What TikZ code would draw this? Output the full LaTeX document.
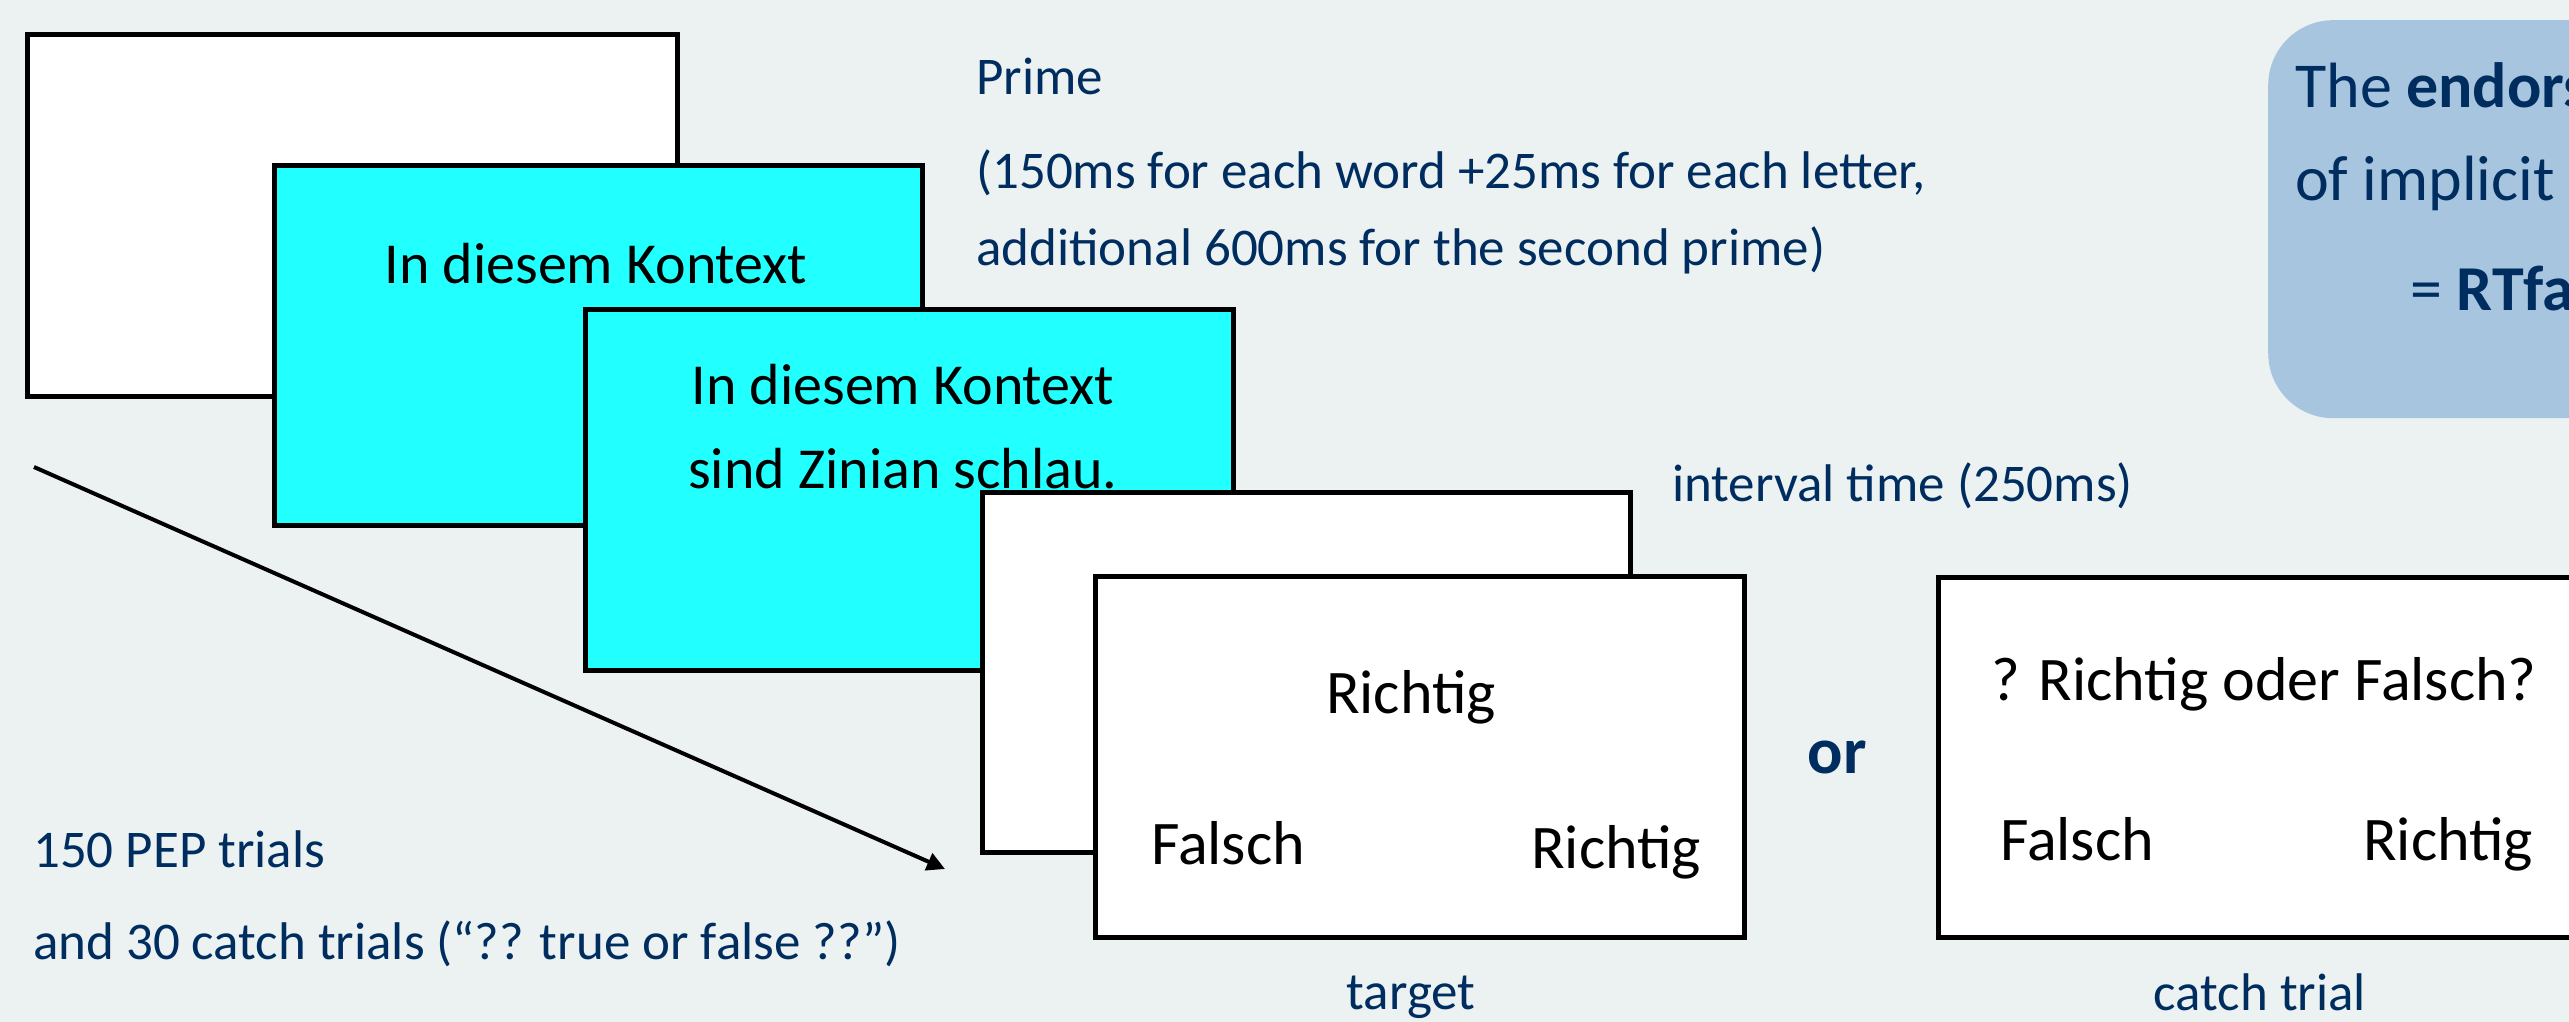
\documentclass[tikz,border=0pt]{standalone}
\usepackage{fontspec}
\setmainfont{Carlito}
\usetikzlibrary{arrows.meta}
\definecolor{bgc}{RGB}{236,241,241}
\definecolor{navy}{RGB}{0,45,95}
\definecolor{cyanbox}{RGB}{34,255,255}
\definecolor{bluebox}{RGB}{167,197,222}
\tikzset{
  screen/.style={draw=black, line width=5pt, inner sep=0pt, outer sep=0pt},
  btxt/.style={anchor=base, inner sep=0pt, text=black, font=\fontsize{58}{69}\selectfont},
  rtxt/.style={anchor=base, inner sep=0pt, text=black, font=\fontsize{62}{74}\selectfont},
  ntxt/.style={anchor=base west, inner sep=0pt, text=navy, font=\fontsize{53}{63}\selectfont},
  ctxt/.style={anchor=base, inner sep=0pt, text=navy, font=\fontsize{53}{63}\selectfont},
  qtxt/.style={anchor=base west, inner sep=0pt, text=navy, font=\fontsize{64}{76}\selectfont},
}
\begin{document}
\begin{tikzpicture}[x=1pt, y=-1pt]
\fill[bgc] (0,0) rectangle (2569,1022);
\useasboundingbox (0,0) rectangle (2569,1022);

% blue info box (cut off at right edge)
\node[fill=bluebox, rounded corners=65pt, minimum width=400pt, minimum height=398pt, inner sep=0pt, anchor=north west] (info) at (2268,20) {};
\node[qtxt] (info1) at (2295,108) {The \textbf{endors}};
\node[qtxt] (info2) at (2295,200) {of implicit};
\node[qtxt] (info3) at (2410,310) {= \textbf{RTfa}};

% prime description
\node[ntxt] (prime) at (976,95) {Prime};
\node[ntxt] (prime2) at (976,188) {(150ms for each word +25ms for each letter,};
\node[ntxt] (prime3) at (976,265) {additional 600ms for the second prime)};

% screens
\node[screen, fill=white, minimum width=650pt, minimum height=361pt] (s1) at (352,215.5) {};
\node[screen, fill=cyanbox, minimum width=648pt, minimum height=360pt] (s2) at (598,345) {};
\node[btxt] (s2t) at (596,283) {In diesem Kontext};
\node[screen, fill=cyanbox, minimum width=648pt, minimum height=361pt] (s3) at (909,489.5) {};
\node[btxt] (s3t1) at (903,404) {In diesem Kontext};
\node[btxt] (s3t2) at (903,488) {sind Zinian schlau.};
\node[screen, fill=white, minimum width=648pt, minimum height=360pt] (s4) at (1306,672) {};
\node[screen, fill=white, minimum width=649pt, minimum height=361pt] (s5) at (1419.5,756.5) {};
\node[rtxt] (t1) at (1411,713) {Richtig};
\node[rtxt, anchor=base west] (t2) at (1151,864) {Falsch};
\node[rtxt, anchor=base west] (t3) at (1531,868) {Richtig};

\node[screen, fill=white, minimum width=700pt, minimum height=360pt, anchor=north west] (s6) at (1938,577) {};
\node[rtxt, anchor=base west] (c1) at (1991,700) {? Richtig oder Falsch?};
\node[rtxt, anchor=base west] (c2) at (2000,860) {Falsch};
\node[rtxt, anchor=base west] (c3) at (2363,860) {Richtig};

\node[ntxt] (interval) at (1672,501) {interval time (250ms)};
\node[anchor=base, inner sep=0pt, text=navy, font=\fontsize{66}{78}\selectfont\bfseries] (or) at (1837,773) {or};
\node[ctxt] (target) at (1411,1009) {target};
\node[ctxt] (catch) at (2260,1010) {catch trial};

\node[ntxt] (pep1) at (33,867) {150 PEP trials};
\node[ntxt] (pep2) at (33,959) {and 30 catch trials (“?? true or false ??”)};

\coordinate (a0) at (34,467);
\coordinate (a1) at (945,869);
\draw[line width=4pt, -{Triangle[length=18pt, width=18pt]}] (a0) -- (a1);
\end{tikzpicture}
\end{document}
